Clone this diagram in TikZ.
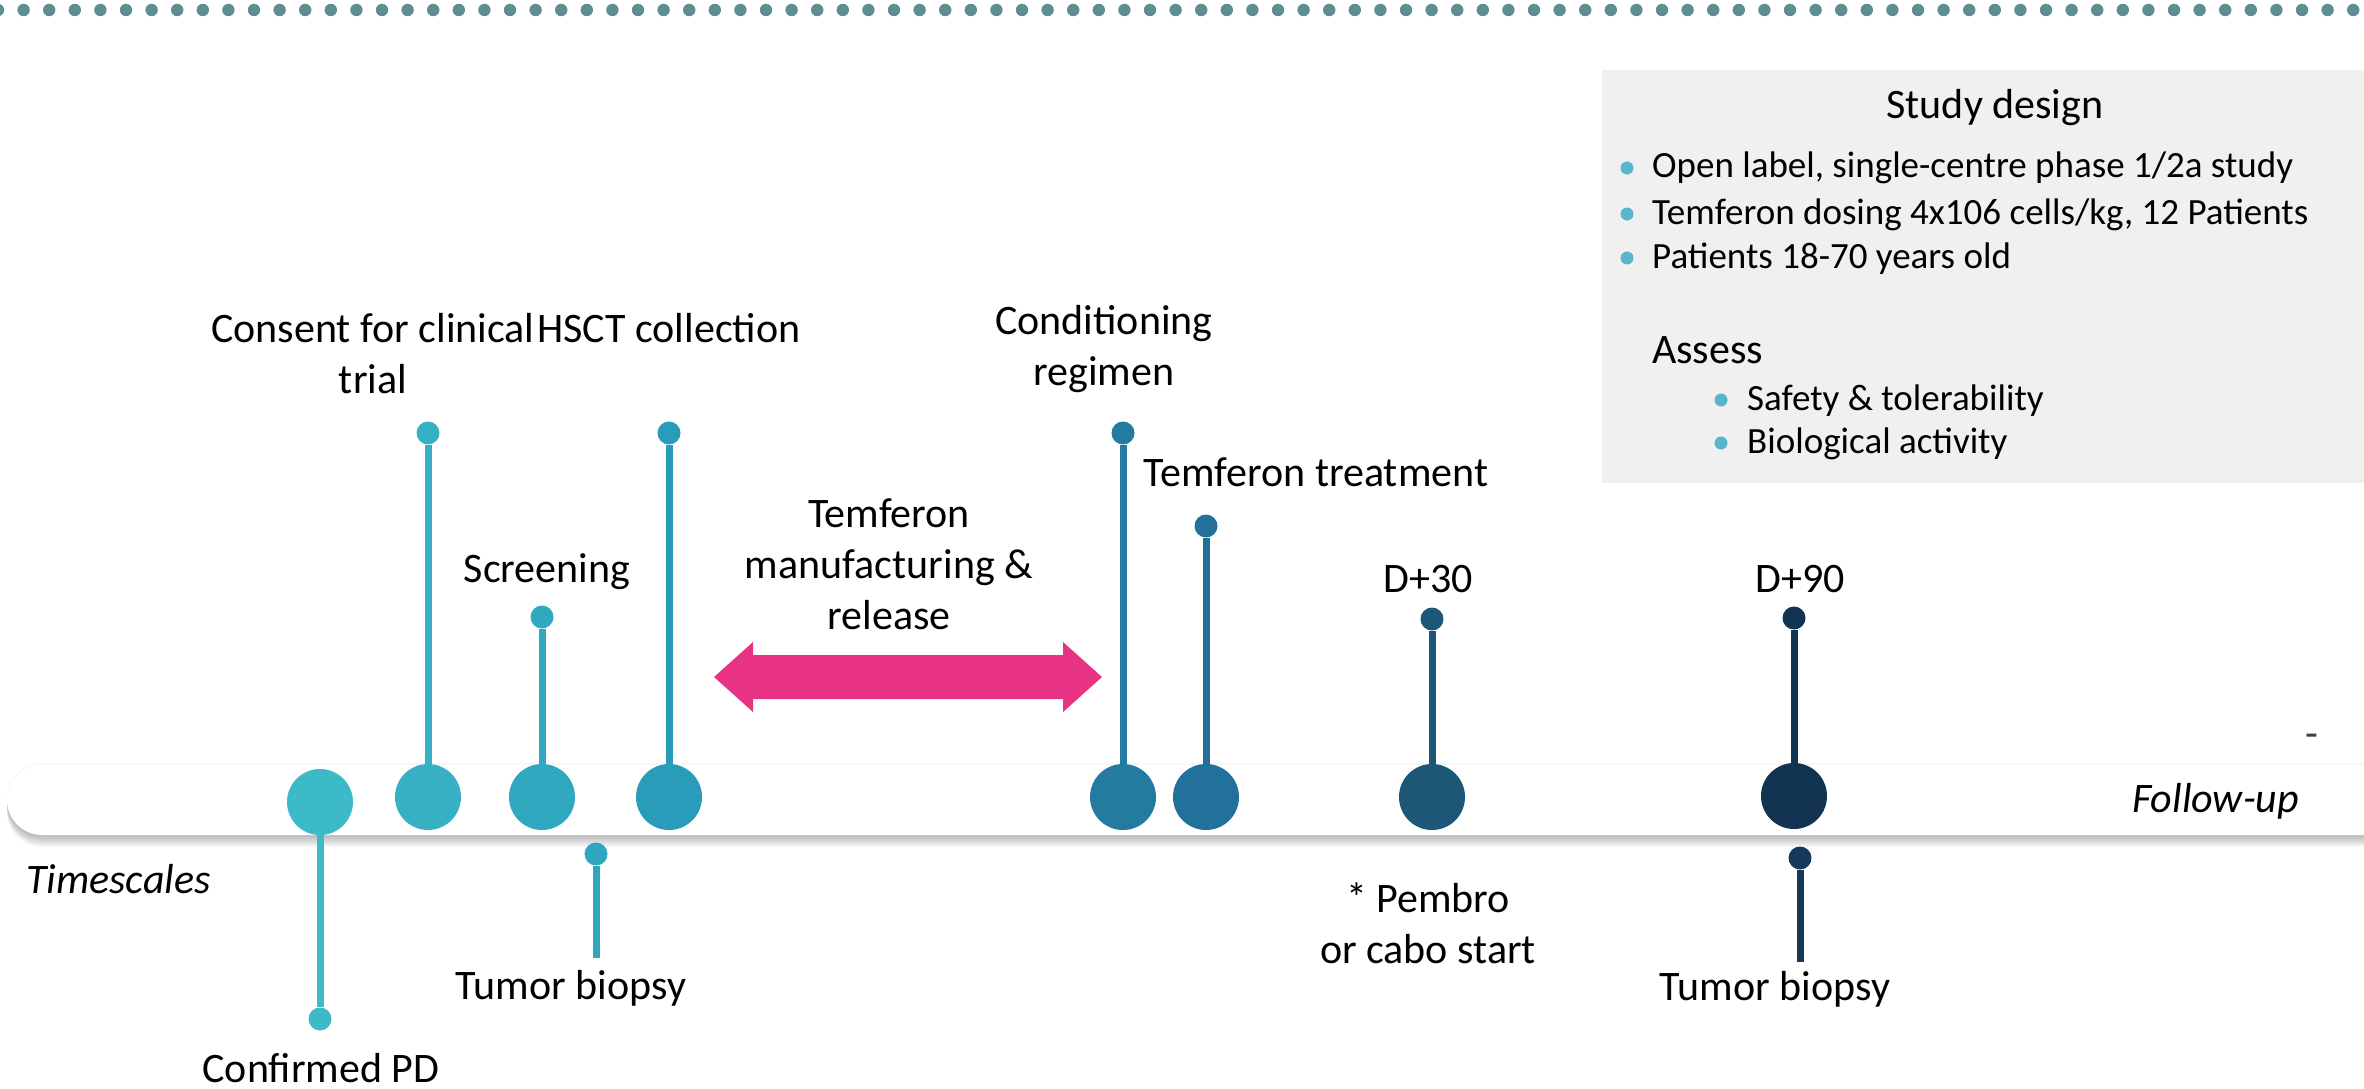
\documentclass[tikz,border=0pt]{standalone}
\usepackage{fontspec}
\setmainfont{Carlito}
\definecolor{dotc}{HTML}{5E8D92}
\definecolor{boxgray}{HTML}{F0F0F0}
\definecolor{bulc}{HTML}{5BB5C8}
\definecolor{pinkc}{HTML}{E83283}
\definecolor{cA}{HTML}{3DBAC8}
\definecolor{cB}{HTML}{37B0C4}
\definecolor{cC}{HTML}{30A8BF}
\definecolor{cD}{HTML}{289CB8}
\definecolor{cE}{HTML}{237C9F}
\definecolor{cF}{HTML}{21719A}
\definecolor{cG}{HTML}{1C5777}
\definecolor{cH}{HTML}{123452}
\definecolor{tbA}{HTML}{2FA5BE}
\definecolor{tbB}{HTML}{16395A}
\newcommand{\mlines}[1]{\begin{tabular}[t]{@{}c@{}}#1\end{tabular}}
\begin{document}
\begin{tikzpicture}[x=1pt,y=-1pt,
  bigdot/.style={circle, minimum size=66pt, inner sep=0pt, fill=#1},
  smalldot/.style={circle, minimum size=23pt, inner sep=0pt, fill=#1},
  stem/.style={line width=7pt, draw=#1},
  lbl/.style={font=\fontsize{42}{51}\selectfont, inner sep=0pt, anchor=base},
  boxtxt/.style={font=\fontsize{37}{45}\selectfont, inner sep=0pt, anchor=base west},
  ital/.style={font=\fontsize{42}{51}\selectfont\itshape, inner sep=0pt, anchor=base west}]
\clip (0,0) rectangle (2364,1089);
\fill[white] (0,0) rectangle (2364,1089);
% top dotted rule
\foreach \i in {0,...,92} \fill[dotc] ({-2+25.6*\i},10) circle (6.2pt);
% study design box
\fill[boxgray] (1602,70) rectangle (2364,483);
% timeline bar with soft shadow
\foreach \d in {1,...,12} \fill[black, opacity=0.022, rounded corners=35pt] (7,{765+\d}) rectangle (2450,{835+\d});
\foreach \d in {1,...,3} \fill[black, opacity=0.012, rounded corners=35pt] (7,{765-\d}) rectangle (2450,{835-\d});
\fill[white, rounded corners=35pt] (7,765) rectangle (2450,835);
% big dots on the bar
\node[bigdot=cA] (pd) at (320,802) {};
\node[bigdot=cB] (cons) at (428,797) {};
\node[bigdot=cC] (scr) at (542,797) {};
\node[bigdot=cD] (hsct) at (669,797) {};
\node[bigdot=cE] (cond) at (1123,797) {};
\node[bigdot=cF] (treat) at (1206,797) {};
\node[bigdot=cG] (dthirty) at (1432,797) {};
\node[bigdot=cH] (dninety) at (1794,796) {};
% small dots
\node[smalldot=cA] (pdd) at (320,1019) {};
\node[smalldot=cB] (consd) at (428,433) {};
\node[smalldot=cC] (scrd) at (542,617) {};
\node[smalldot=cD] (hsctd) at (669,433) {};
\node[smalldot=cE] (condd) at (1123,433) {};
\node[smalldot=cF] (treatd) at (1206,526) {};
\node[smalldot=cG] (dthirtyd) at (1432,619) {};
\node[smalldot=cH] (dninetyd) at (1794,618) {};
\node[smalldot=tbA] (tbad) at (596,854) {};
\node[smalldot=tbB] (tbbd) at (1800,858) {};
\coordinate (tbae) at (596,958);
\coordinate (tbbe) at (1800,962);
% stems
\draw[stem=cA] (pd) -- (pdd);
\draw[stem=cB] (cons) -- (consd);
\draw[stem=cC] (scr) -- (scrd);
\draw[stem=cD] (hsct) -- (hsctd);
\draw[stem=cE] (cond) -- (condd);
\draw[stem=cF] (treat) -- (treatd);
\draw[stem=cG] (dthirty) -- (dthirtyd);
\draw[stem=cH] (dninety) -- (dninetyd);
\draw[stem=tbA] (tbad) -- (tbae);
\draw[stem=tbB] (tbbd) -- (tbbe);
% manufacturing double arrow
\fill[pinkc] (714,677) -- (753,642) -- (753,655) -- (1063,655) -- (1063,642) -- (1102,677)
  -- (1063,712) -- (1063,699) -- (753,699) -- (753,712) -- cycle;
% labels
\node[lbl] (lcons) at (373,342) {\mlines{Consent for clinical\\trial}};
\node[lbl] (lhsct) at (669,342) {HSCT collection};
\node[lbl] (lscr) at (547,582) {Screening};
\node[lbl] (lmanu) at (889,527) {\mlines{Temferon\\manufacturing \&\\release}};
\node[lbl] (lcond) at (1104,334) {\mlines{Conditioning\\regimen}};
\node[lbl] (ltreat) at (1316,486) {Temferon treatment};
\node[lbl] (lthirty) at (1428,592) {D+30};
\node[lbl] (lninety) at (1800,592) {D+90};
\node[lbl] (lpem) at (1428,912) {\mlines{* Pembro\\or cabo start}};
\node[lbl] (ltba) at (571,999) {Tumor biopsy};
\node[lbl] (ltbb) at (1775,1000) {Tumor biopsy};
\node[lbl] (lpd) at (321,1082) {Confirmed PD};
\node[ital] (lts) at (26,893) {Timescales};
\node[ital] (lfu) at (2132,812) {Follow-up};
\node[lbl, text=black!75] (ldash) at (2312,747) {-};
% study design text
\node[lbl] (sdt) at (1995,119) {Study design};
\fill[bulc] (1627,168) circle (6.5pt);
\fill[bulc] (1627,214) circle (6.5pt);
\fill[bulc] (1627,258) circle (6.5pt);
\node[boxtxt] (ba) at (1652,178) {Open label, single-centre phase 1/2a study};
\node[boxtxt] (bb) at (1652,224) {Temferon dosing 4x106 cells/kg, 12 Patients};
\node[boxtxt] (bc) at (1652,268) {Patients 18-70 years old};
\node[lbl, anchor=base west] (assess) at (1652,363) {Assess};
\fill[bulc] (1721,400) circle (6.5pt);
\fill[bulc] (1721,443) circle (6.5pt);
\node[boxtxt] (sa) at (1747,410) {Safety \& tolerability};
\node[boxtxt] (sb) at (1747,453) {Biological activity};
\end{tikzpicture}
\end{document}
